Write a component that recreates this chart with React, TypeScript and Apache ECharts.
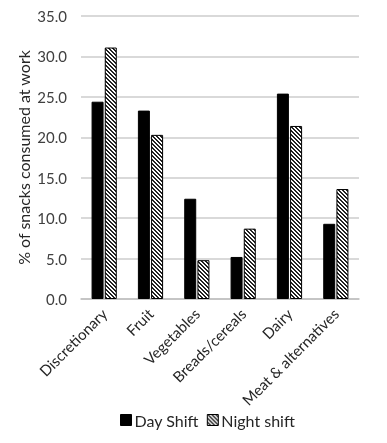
import React, { useEffect, useRef } from "react";
import * as echarts from "echarts";

const categories = ["Discretionary", "Fruit", "Vegetables", "Breads/cereals", "Dairy", "Meat & alternatives"];
const dayShift = [24.4, 23.3, 12.4, 5.2, 25.4, 9.3];
const nightShift = [31.1, 20.3, 4.8, 8.7, 21.4, 13.6];
const seriesNames = ["Day Shift", "Night shift"];

function makeHatch(): HTMLCanvasElement {
  const c = document.createElement("canvas");
  c.width = 4;
  c.height = 4;
  const ctx = c.getContext("2d")!;
  ctx.fillStyle = "#ffffff";
  ctx.fillRect(0, 0, 4, 4);
  ctx.fillStyle = "#222222";
  for (let i = 0; i < 4; i++) {
    ctx.fillRect(i, i, 1, 1);
    ctx.fillRect((i + 1) % 4, i, 1, 1);
  }
  return c;
}

export default function App() {
  const ref = useRef<HTMLDivElement>(null);
  useEffect(() => {
    if (!ref.current) return;
    const chart = echarts.init(ref.current, null, { renderer: "svg" });
    const hatch = { image: makeHatch(), repeat: "repeat" } as any;
    const font = "Lato, 'Open Sans', sans-serif";
    chart.setOption({
      animation: false,
      textStyle: { fontFamily: font },
      grid: { left: 81, right: 28, top: 16, bottom: 144 },
      legend: {
        top: 407,
        left: 115,
        itemWidth: 11,
        itemHeight: 11,
        itemGap: 8,
        itemStyle: { borderColor: "#000000", borderWidth: 1 },
        textStyle: { fontSize: 16, color: "#262626", fontFamily: font, padding: [0, 0, 0, -2] },
        data: [
          { name: seriesNames[0], icon: "rect" },
          { name: seriesNames[1], icon: "rect" },
        ],
      },
      xAxis: {
        type: "category",
        data: categories,
        axisTick: { show: false },
        axisLine: { lineStyle: { color: "#bfbfbf", width: 1.5 } },
        axisLabel: { rotate: 45, fontSize: 15, color: "#262626", margin: 12, interval: 0, fontFamily: font },
      },
      yAxis: {
        type: "value",
        min: 0,
        max: 35,
        interval: 5,
        name: "% of snacks consumed at work",
        nameLocation: "middle",
        nameGap: 50,
        nameMoveOverlap: false,
        nameTextStyle: { fontSize: 16, color: "#262626", fontFamily: font },
        axisLabel: { formatter: (v: number) => v.toFixed(1), fontSize: 15, color: "#404040", margin: 14, fontFamily: font },
        splitLine: { lineStyle: { color: "#cccccc", width: 1.5 } },
        axisLine: { show: false },
        axisTick: { show: false },
      },
      series: [
        {
          name: seriesNames[0],
          type: "bar",
          data: dayShift,
          barWidth: 12,
          barGap: "10%",
          itemStyle: { color: "#000000", borderColor: "#000000", borderWidth: 1 },
        },
        {
          name: seriesNames[1],
          type: "bar",
          data: nightShift,
          barWidth: 12,
          barGap: "10%",
          itemStyle: { color: hatch, borderColor: "#000000", borderWidth: 1 },
        },
      ],
    });
    return () => chart.dispose();
  }, []);
  return <div ref={ref} style={{ position: "fixed", left: 0, top: 0, width: 387, height: 443 }} />;
}
